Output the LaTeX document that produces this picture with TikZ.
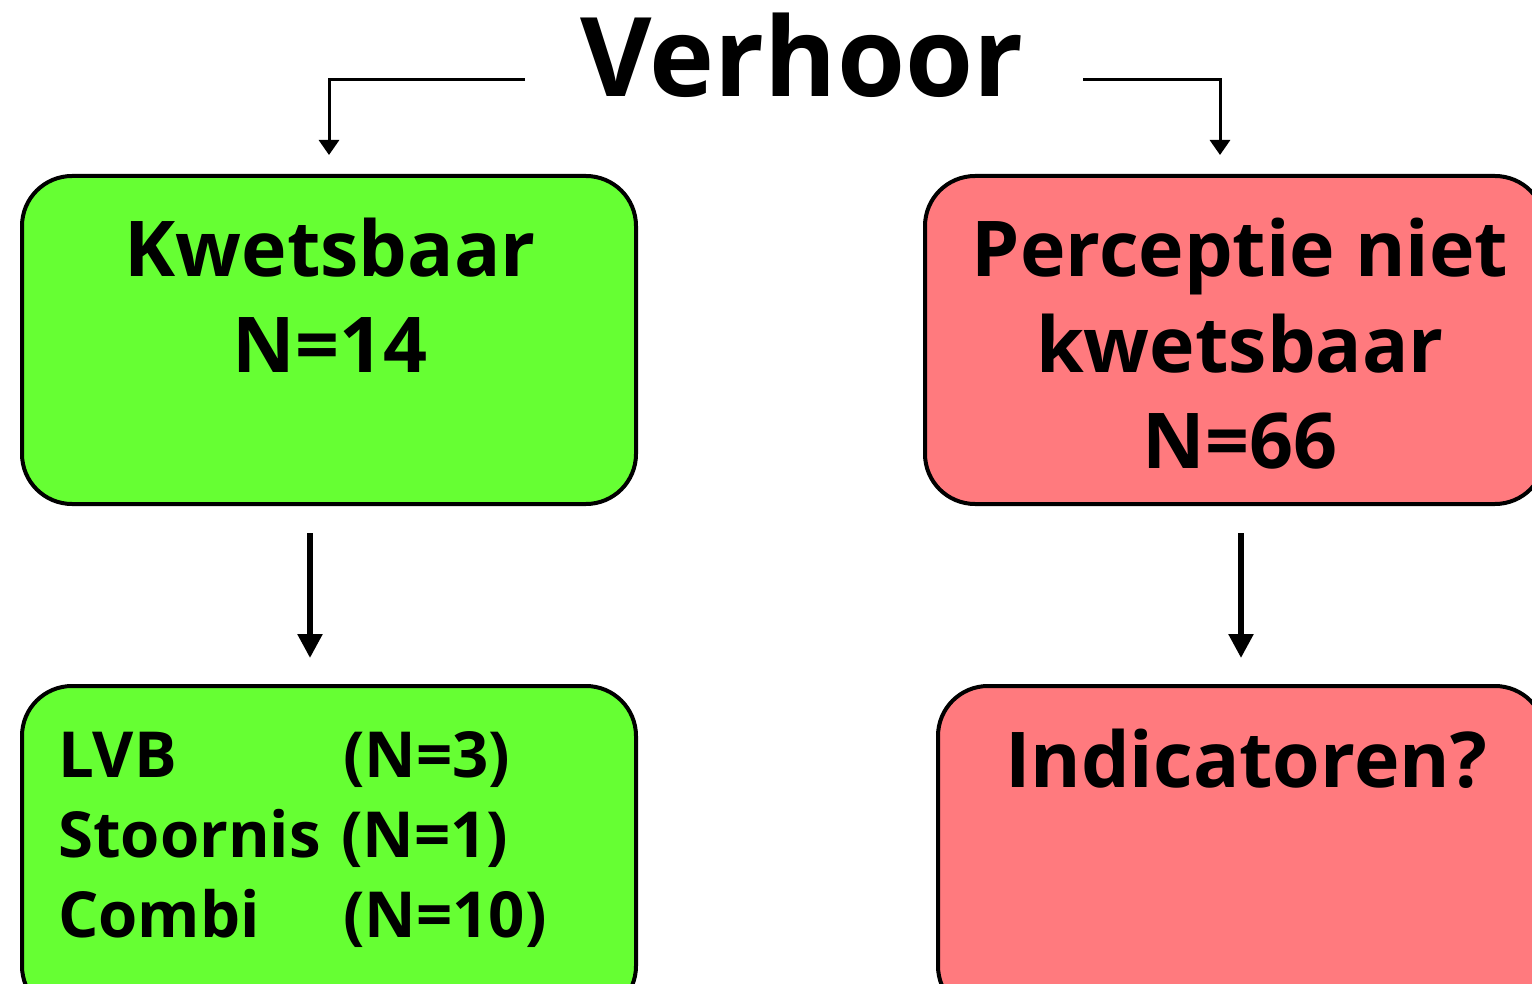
\documentclass[tikz,border=0pt]{standalone}
\usepackage{fontspec}
\setmainfont{Open Sans}[Ligatures=NoCommon]
\usetikzlibrary{arrows.meta}
\definecolor{boxgreen}{RGB}{102,255,51}
\definecolor{boxred}{RGB}{255,122,126}
\begin{document}
\begin{tikzpicture}[x=1pt,y=-1pt,
  box/.style={draw=black,line width=4pt,rounded corners=50pt,inner sep=0pt},
  txt/.style={anchor=base,inner sep=0pt,font=\fontsize{77}{96}\selectfont\bfseries},
  ltxt/.style={anchor=base west,inner sep=0pt,font=\fontsize{63.5}{80}\selectfont\bfseries},
  thin arrow/.style={line width=3pt,-{Triangle[length=15pt,width=20pt]}},
  thick arrow/.style={line width=5.5pt,-{Triangle[length=24pt,width=24pt]}}]
\useasboundingbox (0,0) rectangle (1532,984);
\clip (0,0) rectangle (1532,984);
% title
\node[anchor=base,inner sep=0pt,font=\fontsize{110}{120}\selectfont\bfseries] (title) at (802,97) {Verhoor};
% boxes
\node[box,fill=boxgreen,minimum width=614pt,minimum height=328pt] (kw) at (329,340) {};
\node[box,fill=boxred,minimum width=620pt,minimum height=328pt] (pn) at (1235,340) {};
\node[box,fill=boxgreen,minimum width=614pt,minimum height=330pt] (sub) at (329,851) {};
\node[box,fill=boxred,minimum width=607pt,minimum height=330pt] (ind) at (1241.5,851) {};
% texts
\node[txt] (kw1) at (330,277) {Kwetsbaar};
\node[txt] (kw2) at (330,373) {N=14};
\node[txt] (pn1) at (1240,277) {Perceptie niet};
\node[txt] (pn2) at (1240,373) {kwetsbaar};
\node[txt] (pn3) at (1240,468) {N=66};
\node[txt] (ind1) at (1246,787) {Indicatoren?};
\node[ltxt] (s1) at (58,777) {LVB};
\node[ltxt] (s1n) at (343,777) {(N=3)};
\node[ltxt] (s2) at (58,857) {Stoornis};
\node[ltxt] (s2n) at (341,857) {(N=1)};
\node[ltxt] (s3) at (58,937) {Combi};
\node[ltxt] (s3n) at (343,937) {(N=10)};
% connectors
\coordinate (tl) at (525,80);
\coordinate (tr) at (1083,80);
\coordinate (kwin) at (329,155);
\coordinate (pnin) at (1220,155);
\draw[thin arrow] (tl) -| (kwin);
\draw[thin arrow] (tr) -| (pnin);
\coordinate (kwout) at (310,533);
\coordinate (subin) at (310,658);
\coordinate (pnout) at (1241,533);
\coordinate (indin) at (1241,658);
\draw[thick arrow] (kwout) -- (subin);
\draw[thick arrow] (pnout) -- (indin);
\end{tikzpicture}
\end{document}
